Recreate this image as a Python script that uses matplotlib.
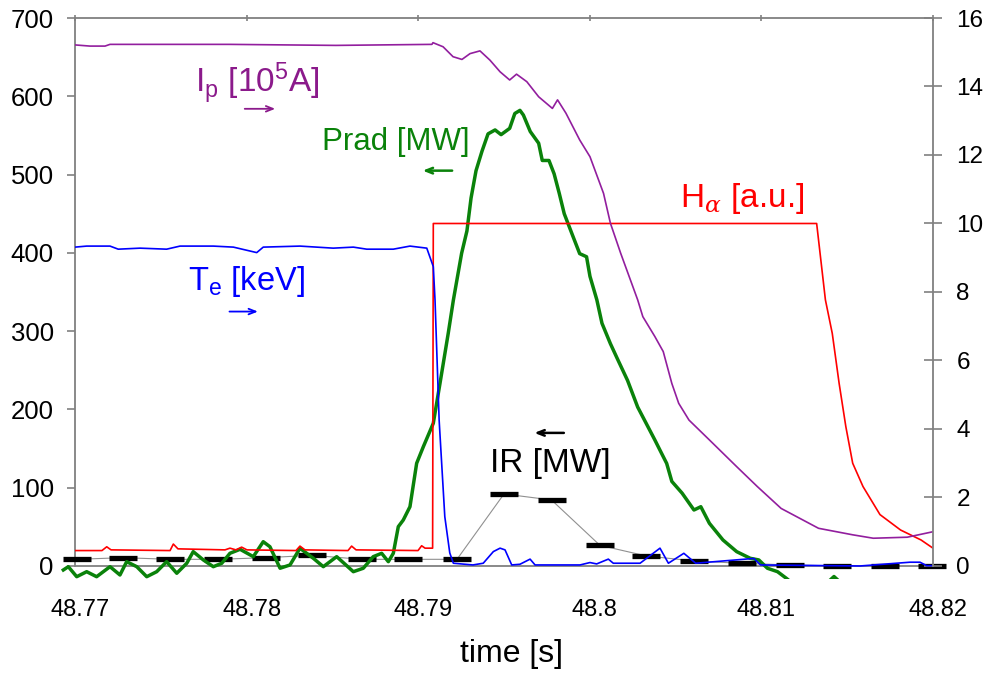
import matplotlib
matplotlib.use("Agg")
import matplotlib.pyplot as plt
from matplotlib import transforms
from matplotlib.patches import Rectangle

plt.rcParams['font.family'] = 'Liberation Sans'
plt.rcParams['mathtext.fontset'] = 'custom'
plt.rcParams['mathtext.rm'] = 'Liberation Sans'
plt.rcParams['mathtext.it'] = 'DejaVu Serif:italic'
plt.rcParams['mathtext.default'] = 'regular'

# plasma current Ip [1e5 A] (right axis)
t_ip = [48.76959, 48.77087, 48.77175, 48.77204, 48.7790, 48.7852, 48.7908, 48.79086, 48.79145,
        48.79203, 48.79255, 48.79302, 48.7936, 48.79418, 48.79477, 48.79533, 48.79573,
        48.79633, 48.79702, 48.79782, 48.79812, 48.79861, 48.79941, 48.80001, 48.8008,
        48.8012, 48.8018, 48.80279, 48.80309, 48.80379, 48.80428, 48.80478, 48.80518,
        48.80578, 48.80697, 48.80856, 48.80976, 48.81115, 48.81333, 48.81532, 48.81652,
        48.8185, 48.82]
ip = [15.23, 15.18, 15.18, 15.23, 15.23, 15.20, 15.23, 15.28, 15.16,
      14.87, 14.79, 14.96, 15.04, 14.77, 14.43, 14.19, 14.36,
      14.14, 13.70, 13.36, 13.61, 13.22, 12.44, 11.95, 10.88,
      10.01, 9.13, 7.77, 7.28, 6.70, 6.26, 5.33, 4.75,
      4.26, 3.68, 2.90, 2.32, 1.68, 1.10, 0.91, 0.81,
      0.84, 1.00]

# electron temperature Te [keV] (right axis)
t_te = [48.77, 48.77068, 48.77204, 48.77252, 48.77379, 48.77534, 48.77612, 48.77806,
        48.77923, 48.78059, 48.78097, 48.78311, 48.78505, 48.78622, 48.787, 48.78855,
        48.78952, 48.7905, 48.79088, 48.79098, 48.79122, 48.79155, 48.79184, 48.79205,
        48.79319, 48.79379, 48.79438, 48.79477, 48.79506, 48.79545, 48.79593, 48.79652,
        48.79681, 48.79943, 48.80001, 48.8004, 48.80108, 48.80137, 48.80293, 48.80409,
        48.80458, 48.80548, 48.80617, 48.80956, 48.80995, 48.81575, 48.81866, 48.81924,
        48.81963, 48.82]
te = [9.31, 9.34, 9.34, 9.25, 9.28, 9.25, 9.34, 9.34,
      9.31, 9.15, 9.31, 9.34, 9.28, 9.31, 9.25, 9.25,
      9.34, 9.28, 8.74, 7.77, 4.26, 1.44, 0.38, 0.08,
      0.03, 0.08, 0.42, 0.52, 0.47, 0.03, 0.05, 0.20,
      0.03, 0.03, 0.10, 0.06, 0.20, 0.08, 0.08, 0.52,
      0.08, 0.37, 0.08, 0.22, 0.03, 0.0, 0.11, 0.11,
      0.01, 0.01]

# H-alpha [a.u.] (right axis)
t_ha = [48.77, 48.77157, 48.77185, 48.7721, 48.77554, 48.77573, 48.776, 48.77874,
        48.77903, 48.77938, 48.77971, 48.78002, 48.78288, 48.78311, 48.7834, 48.78591,
        48.78612, 48.78638, 48.78999, 48.7902, 48.7904, 48.79084, 48.79088, 48.81322,
        48.81373, 48.81413, 48.81453, 48.81492, 48.81532, 48.81592, 48.81691, 48.81811,
        48.8193, 48.82]
ha = [0.45, 0.45, 0.56, 0.47, 0.45, 0.64, 0.50, 0.47,
      0.52, 0.47, 0.55, 0.47, 0.45, 0.58, 0.47, 0.45,
      0.58, 0.47, 0.45, 0.59, 0.52, 0.52, 10.0, 10.0,
      7.77, 6.79, 5.33, 4.07, 3.00, 2.32, 1.50, 1.05,
      0.76, 0.52]

# radiated power Prad [MW] (left axis)
t_prad = [48.76932, 48.76961, 48.7701, 48.77068, 48.77126, 48.77204, 48.77262, 48.77301,
          48.7736, 48.77418, 48.77476, 48.77534, 48.77593, 48.77651, 48.77689, 48.77748,
          48.77806, 48.77855, 48.77903, 48.77962, 48.78039, 48.78097, 48.78136, 48.78195,
          48.78253, 48.78311, 48.78389, 48.78447, 48.78525, 48.78622, 48.7868, 48.78738,
          48.78787, 48.78826, 48.78855, 48.78884, 48.78913, 48.78952, 48.78991, 48.7903,
          48.79088, 48.79127, 48.79175, 48.79205, 48.79253, 48.79284, 48.79308, 48.79337,
          48.79372, 48.79407, 48.79448, 48.79483, 48.79533, 48.79563, 48.79593, 48.79613,
          48.79653, 48.79702, 48.79723, 48.79762, 48.79792, 48.79822, 48.79851, 48.79902,
          48.79941, 48.79981, 48.80001, 48.80041, 48.80071, 48.8012, 48.8016, 48.8022,
          48.80279, 48.80329, 48.80379, 48.80418, 48.80448, 48.80478, 48.80538, 48.80607,
          48.80647, 48.80697, 48.80776, 48.80856, 48.80935, 48.80985, 48.81035, 48.81094,
          48.81145, 48.81225, 48.81341, 48.81423, 48.81505, 48.82]
prad = [-5.1, -0.9, -13.7, -7.3, -13.7, -0.9, -11.5, 5.5,
        -0.9, -13.7, -7.3, 5.5, -9.3, 3.4, 18.3, 7.7,
        -0.9, 3.4, 16.2, 21.3, 11.9, 31.0, 24.6, -2.9,
        1.3, 22.6, 9.8, -0.9, 11.9, -7.3, -2.9, 11.9,
        16.2, 5.5, 16.2, 50.2, 58.7, 75.7, 131.2, 152.4,
        182.3, 233.3, 297.2, 339.7, 399.4, 428, 470, 505,
        530, 552, 557, 551, 559, 578, 582, 576,
        555, 540, 518, 518, 501, 476, 450, 421,
        399, 395, 370, 340, 310, 284, 265, 237,
        203, 182, 161, 144, 131, 108, 93, 71.5,
        75.7, 54.5, 33.2, 18.3, 9.8, 7.7, -2.9, -7.3,
        -15.7, -30, -30, -13.5, -30, -30]

# IR power [MW] (left axis)
t_ir = [48.7701, 48.77281, 48.77554, 48.77835, 48.78111, 48.78383, 48.78671, 48.78942,
        48.79226, 48.795, 48.79777, 48.80059, 48.80329, 48.80607, 48.80886, 48.81164,
        48.81443, 48.81721, 48.81994]
ir = [8.5, 10.6, 8.5, 8.5, 10.6, 13.6, 8.5, 8.5,
      8.5, 92.0, 84.3, 26.4, 12.8, 6.4, 3.4, 1.3,
      0.0, 0.0, 0.0]

x_ticks = [48.77, 48.78, 48.79, 48.80, 48.81, 48.82]
x_labels = ['48.77', '48.78', '48.79', '48.8', '48.81', '48.82']
left_ticks = [0, 100, 200, 300, 400, 500, 600, 700]
right_ticks = [0, 2, 4, 6, 8, 10, 12, 14, 16]

c_ip = '#921e9e'
c_te = '#0000ff'
c_ha = '#ff0000'
c_prad = '#0a820a'
grey = '#808080'

fig = plt.figure(figsize=(9.84, 6.74), dpi=100)
ax = fig.add_axes([75 / 984, 1 - 578.5 / 674, 858 / 984, 560.5 / 674])
ax2 = ax.twinx()

ymin_left = -16
ax.set_xlim(48.77, 48.82)
ax.set_ylim(ymin_left, 700)
ax2.set_ylim(ymin_left / 700 * 16, 16)

# left axis data
ax.axhline(0, color=grey, lw=1.3, zorder=1)
ax.plot(t_ir, ir, color='#909090', lw=0.8, clip_on=False, zorder=2)
ax.plot(t_ir, ir, ls='none', marker='_', ms=20, mew=3.8, color='black',
        clip_on=False, zorder=3)
green, = ax.plot(t_prad, prad, color=c_prad, lw=2.5, zorder=4)
clip_rect = Rectangle((-0.016, 0), 1.016, 1, transform=ax.transAxes)
green.set_clip_path(clip_rect)

# right axis data
ax2.plot(t_ha, ha, color=c_ha, lw=1.2)
ax2.plot(t_ip, ip, color=c_ip, lw=1.2)
ax2.plot(t_te, te, color=c_te, lw=1.2)

# spines
for s in ['bottom', 'right']:
    ax.spines[s].set_visible(False)
ax.spines['left'].set_bounds(0, 700)
ax.spines['left'].set_color(grey)
ax.spines['top'].set_color(grey)
ax.spines['left'].set_linewidth(1.3)
ax.spines['top'].set_linewidth(1.3)
for s in ['bottom', 'left', 'top']:
    ax2.spines[s].set_visible(False)
ax2.spines['right'].set_bounds(0, 16)
ax2.spines['right'].set_color(grey)
ax2.spines['right'].set_linewidth(1.3)

ax.set_yticks(left_ticks)
ax.tick_params(axis='y', direction='out', length=5.8, width=1.2, color=grey,
               labelsize=18.5, pad=9.5)
ax2.set_yticks(right_ticks)
ax2.tick_params(axis='y', direction='inout', length=12.5, width=1.2, color=grey,
                labelsize=17.5, pad=10.5)

ax.set_xticks(x_ticks, x_labels)
ax.tick_params(axis='x', bottom=False, top=True, labelbottom=True, labeltop=False,
               direction='inout', length=4, width=1.2, color=grey, labelsize=17, pad=12.5)
shift = transforms.ScaledTranslation(5 / 100, 0, fig.dpi_scale_trans)
for lab in ax.get_xticklabels():
    lab.set_transform(lab.get_transform() + shift)

ax.set_xlabel('time [s]', fontsize=23)
ax.xaxis.set_label_coords(0.509, -0.108)

# annotations
ax.text(48.77699, 605, 'I$_p$ [10$^5$A]', color='#8b1a8b', fontsize=24,
        ha='left', va='baseline')
ax.annotate('', xy=(48.78183, 584), xytext=(48.77973, 584),
            arrowprops=dict(arrowstyle='->,head_length=0.5,head_width=0.2', color='#8b1a8b', lw=1.3))

ax.text(48.78438, 531, 'Prad [MW]', color=c_prad, fontsize=22.5, ha='left', va='baseline')
ax.annotate('', xy=(48.7901, 505), xytext=(48.79214, 505),
            arrowprops=dict(arrowstyle='->,head_length=0.5,head_width=0.2', color=c_prad, lw=1.8))

ax.text(48.7766, 353, 'T$_e$ [keV]', color=c_te, fontsize=23.5, ha='left', va='baseline')
ax.annotate('', xy=(48.78082, 325), xytext=(48.77884, 325),
            arrowprops=dict(arrowstyle='->,head_length=0.5,head_width=0.2', color=c_te, lw=1.3))

ax.text(48.80526, 459, 'H$_{\\mathit{\\alpha}}$ [a.u.]', color=c_ha, fontsize=24,
        ha='left', va='baseline')

ax.text(48.79418, 120, 'IR [MW]', color='black', fontsize=24, ha='left', va='baseline')
ax.annotate('', xy=(48.79661, 170), xytext=(48.79865, 170),
            arrowprops=dict(arrowstyle='->,head_length=0.5,head_width=0.2', color='black', lw=1.8))

fig.savefig('out.png', dpi=100)
